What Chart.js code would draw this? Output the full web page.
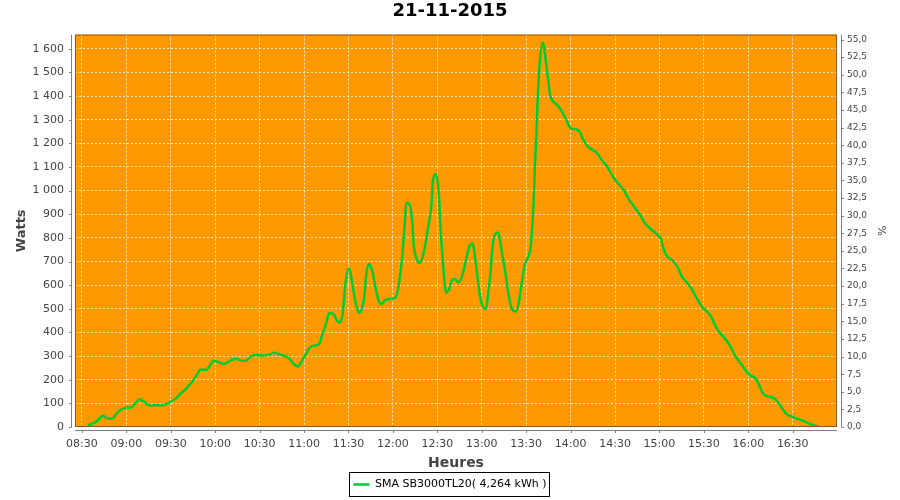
<!DOCTYPE html>
<html>
<head>
<meta charset="utf-8">
<script src="https://cdn.jsdelivr.net/npm/chart.js@4.4.1/dist/chart.umd.min.js"></script>
<style>
html,body{margin:0;padding:0;background:#fff;}
</style>
</head>
<body>
<canvas id="chart" width="900" height="500"></canvas>
<script>
// ================= DATA =================
const titre = "21-11-2015";
const serie = "SMA SB3000TL20( 4,264 kWh )";

const heures = [
"08:34","08:37","08:41","08:44","08:48","08:51","08:53","08:56","09:00","09:03",
"09:06","09:09","09:12","09:16","09:20","09:24","09:28","09:33","09:37","09:41",
"09:44","09:47","09:50","09:54","09:56","09:59","10:03","10:06","10:10","10:14",
"10:18","10:21","10:25","10:28","10:32","10:36","10:40","10:43","10:47","10:50",
"10:53","10:56","10:58","11:01","11:04","11:07","11:10","11:12","11:15","11:17",
"11:20","11:22","11:24","11:26","11:28","11:30","11:31","11:33","11:35","11:37",
"11:39","11:41","11:42","11:44","11:46","11:48","11:50","11:52","11:55","11:58",
"12:01","12:03","12:04","12:06","12:08","12:09","12:11","12:13","12:14","12:16",
"12:18","12:20","12:22","12:24","12:26","12:27","12:29","12:31","12:32","12:33",
"12:34","12:35","12:36","12:38","12:40","12:42","12:44","12:46","12:48","12:50",
"12:52","12:54","12:55","12:57","12:59","13:01","13:03","13:04","13:06","13:07",
"13:09","13:11","13:12","13:14","13:16","13:18","13:20","13:22","13:23","13:25",
"13:27","13:29","13:31","13:33","13:34","13:35","13:36","13:37","13:38","13:39",
"13:41","13:42","13:43","13:45","13:46","13:48","13:51","13:54","13:57","14:00",
"14:03","14:06","14:08","14:11","14:14","14:18","14:21","14:25","14:28","14:31",
"14:36","14:39","14:43","14:47","14:50","14:54","14:58","15:01","15:03","15:05",
"15:09","15:12","15:15","15:19","15:22","15:25","15:29","15:32","15:35","15:38",
"15:41","15:44","15:48","15:51","15:55","15:58","16:01","16:05","16:08","16:10",
"16:14","16:17","16:20","16:23","16:26","16:30","16:34","16:39","16:43","16:48"
];

const watts = [
8,13,30,48,35,37,54,72,82,82,
100,117,107,90,93,92,100,119,143,167,
188,214,243,242,256,280,273,267,280,289,
280,281,303,305,303,305,314,308,301,289,
267,255,274,305,337,344,350,385,440,482,
477,452,442,477,610,669,661,591,520,484,
499,570,647,690,661,598,541,520,538,541,
544,569,605,704,860,948,945,874,775,711,
694,718,775,853,938,1044,1069,987,860,760,
680,600,569,584,622,626,612,626,669,725,
768,775,740,640,548,506,500,548,660,746,
815,824,800,725,650,565,505,490,489,525,
610,685,715,760,840,950,1120,1257,1420,1530,
1625,1611,1560,1460,1410,1378,1363,1335,1300,1264,
1260,1250,1222,1191,1176,1158,1130,1099,1066,1038,
1002,967,931,897,864,838,817,795,750,724,
703,680,638,608,582,546,506,489,466,424,
397,376,340,302,268,241,220,205,168,142,
128,123,105,78,54,43,33,21,10,2
];

// axes
const axeHeures = {min:"08:25", max:"17:00", pas:30};
const axeWatts = {min:0, max:1660, pas:100};
const axePct = {min:0, max:55.7, pas:2.5};


// ================= FORMAT =================
function enMinutes(h){
let [hh, mm] = h.split(":");
return Number(hh)*60 + Number(mm);
}

function fmtHeure(v){
let h = String(Math.floor(v/60)).padStart(2,'0');
let m = String(Math.round(v%60)).padStart(2,'0');
return h+":"+m;
}

function fmtWatts(v){
return String(v).replace(/\B(?=(\d{3})+(?!\d))/g, " ");
}

function fmtPct(v){
return v.toFixed(1).replace(".", ",");
}


// ================= PLOT DECOR (style JFreeChart) =================
const AREA = {left:75, right:837, top:35, bottom:427};

const decor = {
id:"decor",
beforeDraw(chart){
const ctx = chart.ctx;
const a = chart.chartArea;
ctx.save();
ctx.fillStyle = "#ffffff";
ctx.fillRect(0,0,chart.width,chart.height);
ctx.fillStyle = "#ff9900";
ctx.fillRect(a.left,a.top,a.right-a.left,a.bottom-a.top);
ctx.restore();
},
afterDraw(chart){
const ctx = chart.ctx;
const a = chart.chartArea;
const sx = chart.scales.x, sy = chart.scales.y, sp = chart.scales.pct;
ctx.save();

// plot outline
ctx.strokeStyle = "#8a5a20";
ctx.lineWidth = 1;
ctx.strokeRect(a.left+0.5, a.top+0.5, a.right-a.left-1, a.bottom-a.top-1);

// axis lines (offset from plot)
ctx.strokeStyle = "#808080";
ctx.beginPath();
ctx.moveTo(a.left-3.5, a.top); ctx.lineTo(a.left-3.5, a.bottom);
ctx.moveTo(a.right+4.5, a.top); ctx.lineTo(a.right+4.5, a.bottom);
ctx.moveTo(a.left, a.bottom+3.5); ctx.lineTo(a.right, a.bottom+3.5);

sy.ticks.forEach(t=>{
let y = Math.round(sy.getPixelForValue(t.value))+0.5;
ctx.moveTo(a.left-6, y); ctx.lineTo(a.left-3.5, y);
});
sp.ticks.forEach(t=>{
let y = Math.round(sp.getPixelForValue(t.value))+0.5;
ctx.moveTo(a.right+4.5, y); ctx.lineTo(a.right+7, y);
});
sx.ticks.forEach(t=>{
let x = Math.round(sx.getPixelForValue(t.value))+0.5;
ctx.moveTo(x, a.bottom+3.5); ctx.lineTo(x, a.bottom+6);
});
ctx.stroke();

// legend frame
const lg = chart.legend;
if(lg && lg.legendHitBoxes && lg.legendHitBoxes.length){
const b = lg.legendHitBoxes[0];
let cy = Math.round(b.top + b.height/2);
ctx.strokeStyle = "#000000";
ctx.strokeRect(Math.round(b.left)-3.5, cy-12.5, Math.round(b.width)+7, 24);
}
ctx.restore();
}
};


// ================= CHART =================
const points = heures.map((h,i)=>({x:enMinutes(h), y:watts[i]}));
const GRID = "rgba(255,255,255,0.75)";

new Chart(document.getElementById("chart"),{
type:"line",
data:{
datasets:[{
label:serie,
data:points,
borderColor:"#00cc33",
backgroundColor:"#00cc33",
borderWidth:2.5,
pointRadius:0,
cubicInterpolationMode:"monotone",
yAxisID:"y"
}]
},
plugins:[decor],
options:{
responsive:false,
animation:false,
layout:{padding:{left:0,right:0,top:0,bottom:0}},
plugins:{
title:{
display:true,
text:titre,
color:"#000000",
font:{family:"DejaVu Sans",size:18,weight:"bold"},
padding:{top:1,bottom:12}
},
legend:{
position:"bottom",
labels:{
color:"#000000",
font:{family:"DejaVu Sans",size:11},
usePointStyle:true,
pointStyle:"line",
pointStyleWidth:16,
boxHeight:11,
padding:3
}
},
tooltip:{enabled:false}
},
scales:{
x:{
type:"linear",
min:enMinutes(axeHeures.min)+0.3,
max:enMinutes(axeHeures.max)-0.1,
afterFit(scale){ scale.height = 500 - AREA.bottom - scale.chart.legend.height; },
ticks:{
stepSize:axeHeures.pas,
includeBounds:false,
autoSkip:false,
maxRotation:0,
padding:11,
color:"#444444",
font:{family:"DejaVu Sans",size:11},
callback:(v)=>fmtHeure(v)
},
grid:{color:GRID,lineWidth:1,drawTicks:false,borderDash:[2,2]},
border:{display:false,dash:[2,2]},
title:{
display:true,
text:"Heures",
color:"#444444",
font:{family:"DejaVu Sans",size:14,weight:"bold"},
padding:{top:0,bottom:4}
}
},
y:{
type:"linear",
position:"left",
min:axeWatts.min,
max:axeWatts.max,
afterFit(scale){ scale.width = AREA.left; },
ticks:{
stepSize:axeWatts.pas,
includeBounds:false,
maxTicksLimit:100,
padding:11,
color:"#444444",
font:{family:"DejaVu Sans",size:11},
callback:(v)=>fmtWatts(v)
},
grid:{color:GRID,lineWidth:1,drawTicks:false,borderDash:[2,2]},
border:{display:false,dash:[2,2]},
title:{
display:true,
text:"Watts",
color:"#444444",
font:{family:"DejaVu Sans",size:13,weight:"bold"},
padding:{top:14,bottom:0}
}
},
pct:{
type:"linear",
position:"right",
min:axePct.min,
max:axePct.max,
afterFit(scale){ scale.width = 900 - AREA.right; },
ticks:{
stepSize:axePct.pas,
includeBounds:false,
maxTicksLimit:100,
padding:10,
color:"#444444",
font:{family:"DejaVu Sans",size:9},
callback:(v)=>fmtPct(v)
},
grid:{display:false,drawTicks:false},
border:{display:false},
title:{
display:true,
text:"%",
color:"#444444",
font:{family:"DejaVu Sans",size:11},
padding:{top:13,bottom:0}
}
}
}
}
});
</script>
</body>
</html>
